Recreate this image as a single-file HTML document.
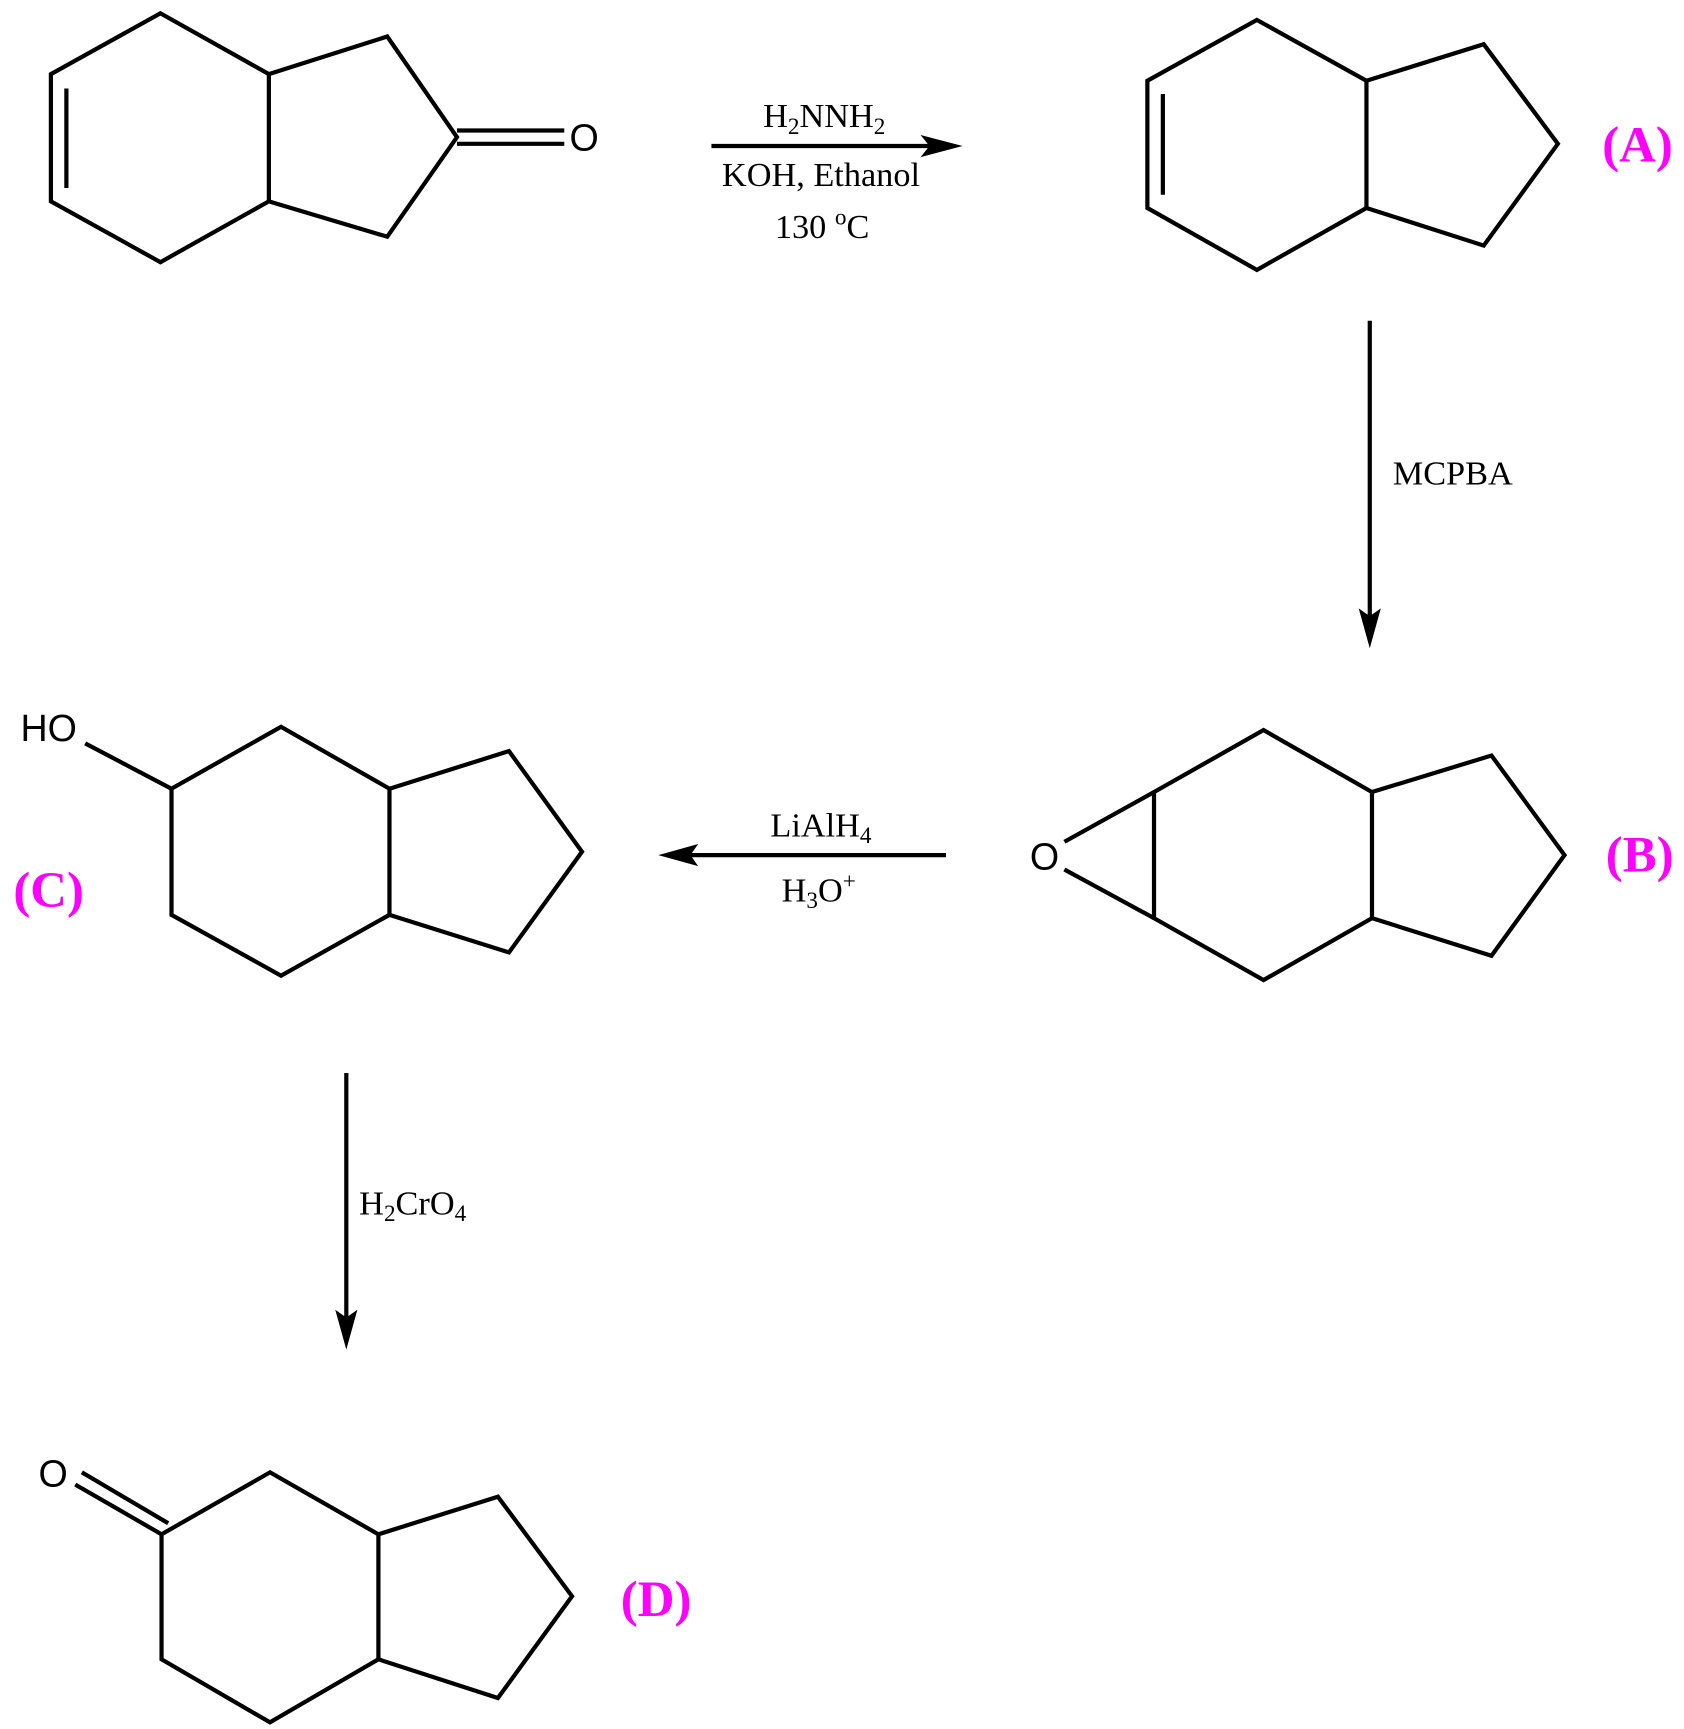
<!DOCTYPE html>
<html><head><meta charset="utf-8"><style>
html,body{margin:0;padding:0;background:#fff;}
svg{display:block;}
.r{font-family:"Liberation Serif",serif;font-size:31px;fill:#000;}
.a{font-family:"Liberation Sans",sans-serif;font-size:34px;fill:#000;}
.l{font-family:"Liberation Serif",serif;font-size:46px;font-weight:bold;fill:#ff00ff;}
</style></head><body>
<svg width="1684" height="1729" viewBox="0 0 1522 1563" preserveAspectRatio="none" xmlns="http://www.w3.org/2000/svg">
<g fill="none" stroke="#000" stroke-width="3.8" stroke-linejoin="miter">
<polygon points="145,12 243,67 243,182 145,237 46,182 46,67"/>
<line x1="60" y1="80" x2="60" y2="170"/>
<polyline points="243,67 350,33 413,124 350,214 243,182"/>
<line x1="413" y1="118" x2="510" y2="118"/>
<line x1="413" y1="130" x2="510" y2="130"/>
<line x1="643" y1="132" x2="845" y2="132"/>
<polygon points="1136,18 1235,73 1235,188 1136,244 1037,188 1037,73"/>
<line x1="1051" y1="85" x2="1051" y2="176"/>
<polyline points="1235,73 1341,40 1408,130 1341,222 1235,188"/>
<line x1="1238" y1="290" x2="1238" y2="560"/>
<polygon points="1142,660 1240,716 1240,830 1142,886 1043,830 1043,716"/>
<polyline points="1240,716 1348,683 1414,773 1348,864 1240,830"/>
<line x1="962" y1="761" x2="1043" y2="716"/>
<line x1="962" y1="786" x2="1043" y2="830"/>
<line x1="855" y1="773" x2="620" y2="773"/>
<polygon points="254,657 352,713 352,827 254,882 155,827 155,713"/>
<polyline points="352,713 460,679 526,770 460,861 352,827"/>
<line x1="77" y1="672" x2="155" y2="713"/>
<line x1="313" y1="970" x2="313" y2="1195"/>
<polygon points="244,1331 342,1387 342,1500 244,1557 146,1500 146,1387"/>
<polyline points="342,1387 450,1353 517,1443 450,1535 342,1500"/>
<line x1="146" y1="1387" x2="68" y2="1342"/>
<line x1="152" y1="1377" x2="74" y2="1331"/>
</g>
<g fill="#000">
<polygon points="870,132 832,122 840,132 832,142"/>
<polygon points="1238,586 1228,550 1238,557 1248,550"/>
<polygon points="595,773 631,763 624,773 631,783"/>
<polygon points="313,1220 303,1184 313,1191 323,1184"/>
</g>
<text class="a" x="528" y="136" text-anchor="middle">O</text>
<text class="a" x="944" y="786" text-anchor="middle">O</text>
<text class="a" x="44" y="670" text-anchor="middle">HO</text>
<text class="a" x="48" y="1344" text-anchor="middle">O</text>
<text class="r" x="745" y="115" text-anchor="middle">H<tspan font-size="21" dy="6">2</tspan><tspan dy="-6">NNH</tspan><tspan font-size="21" dy="6">2</tspan></text>
<text class="r" x="742" y="168" text-anchor="middle">KOH, Ethanol</text>
<text class="r" x="743" y="215" text-anchor="middle">130 <tspan font-size="21" dy="-12">o</tspan><tspan dy="12">C</tspan></text>
<text class="r" x="1313" y="438" text-anchor="middle">MCPBA</text>
<text class="r" x="742" y="756" text-anchor="middle">LiAlH<tspan font-size="21" dy="6">4</tspan></text>
<text class="r" x="740" y="815" text-anchor="middle">H<tspan font-size="21" dy="6">3</tspan><tspan dy="-6">O</tspan><tspan font-size="21" dy="-12">+</tspan></text>
<text class="r" x="373" y="1098" text-anchor="middle">H<tspan font-size="21" dy="6">2</tspan><tspan dy="-6">CrO</tspan><tspan font-size="21" dy="6">4</tspan></text>
<text class="l" x="1480" y="146" text-anchor="middle">(A)</text>
<text class="l" x="1482" y="788" text-anchor="middle">(B)</text>
<text class="l" x="44" y="820" text-anchor="middle">(C)</text>
<text class="l" x="593" y="1461" text-anchor="middle">(D)</text>
</svg>
</body></html>
